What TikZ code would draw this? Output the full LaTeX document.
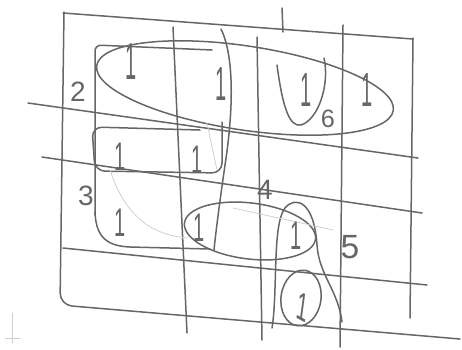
\documentclass[tikz,border=0pt]{standalone}
\usepackage{fontspec}
\setmainfont{Liberation Sans}
\usetikzlibrary{positioning}
\definecolor{PencilGrey}{HTML}{666666}
\definecolor{PencilFaint}{HTML}{CFCFCF}

\begin{document}
\begin{tikzpicture}[
    x=1pt, y=-1pt,
    pencil/.style={draw=PencilGrey, line width=1.5pt, line cap=round, line join=round},
    faintline/.style={draw=PencilFaint, line width=0.8pt, line cap=round},
    onemark/.style={text=PencilGrey, font=\fontsize{40}{40}\selectfont, xscale=0.5, transform shape, inner sep=0pt},
    cornerlabel/.style={text=PencilGrey, font=\fontsize{28}{28}\selectfont, inner sep=0pt}
]
\useasboundingbox (0,0) rectangle (462,349);

% grid
\draw[pencil] (63,13) -- (413,39);
\draw[pencil] (413,38) -- (410,318);
\draw[pencil] (28,103) -- (418,158);
\draw[pencil] (42,157) -- (422,213);
\draw[pencil] (63,248) -- (427,285);
\draw[pencil, rounded corners=12pt] (64,12) -- (60,305) -- (460,339);
\draw[pencil] (173,27) -- (187,333);
\draw[pencil] (257,37) -- (262,340);
\draw[pencil] (343,25) -- (340,347);
\draw[pencil] (282,8) -- (283,32);

% groups
\draw[pencil, rounded corners=6pt] (212,50) -- (95,45) -- (95,215);
\draw[pencil] (95,212) .. controls (96,240) and (110,246) .. (130,247) -- (210,249);
\draw[pencil] (221,29) .. controls (236,60) and (232,120) .. (225,165) .. controls (220,200) and (216,230) .. (214,250);
\draw[pencil, rounded corners=10pt] (222,122) -- (222,173) -- (95,171) -- (92,127) -- (200,130);
\draw[pencil, rotate around={-8.6:(245,88)}] (245,88) ellipse [x radius=150, y radius=42];
\draw[pencil, rotate around={-7:(250,231)}] (250,231) ellipse [x radius=66, y radius=28];
\draw[pencil, rotate around={-8:(301,298)}] (301,298) ellipse [x radius=20, y radius=28];
\draw[pencil] (277,65) .. controls (283,110) and (290,127) .. (301,125) .. controls (318,120) and (330,85) .. (324,58);
\draw[pencil] (272,328) .. controls (278,290) and (272,225) .. (285,208) .. controls (295,196) and (314,200) .. (317,245) .. controls (319,275) and (338,290) .. (342,322);

% rubbed-out strokes
\draw[faintline] (233,208) -- (333,230);
\draw[faintline] (110,170) .. controls (125,215) and (150,235) .. (188,238);
\draw[faintline] (207,123) -- (217,170);
\draw[faintline] (12,313) -- (12,343);
\draw[faintline] (5,338) -- (20,338);

% ones
\node[onemark, yscale=1.3] (r1c1) at (131,62) {1};
\node[onemark, yscale=1.2] (r1c2) at (221,84) {1};
\node[onemark, yscale=1.2] (r1c3) at (306,90) {1};
\node[onemark, yscale=1.2] (r1c4) at (367,90) {1};
\node[onemark] (r2c1) at (120,157) {1};
\node[onemark] (r2c2) at (197,160) {1};
\node[onemark] (r3c1) at (120,223) {1};
\node[onemark] (r3c2) at (199,228) {1};
\node[onemark] (r3c3) at (296,236) {1};
\node[onemark, rotate=-15] (r4c3) at (303,307) {1};

% group numbers
\node[cornerlabel] (two) at (78,92) {2};
\node[cornerlabel] (three) at (86,196) {3};
\node[cornerlabel] (four) at (265,190) {4};
\node[cornerlabel, scale=1.2] (five) at (350,247) {5};
\node[cornerlabel, scale=0.9] (six) at (328,119) {6};
\end{tikzpicture}
\end{document}
